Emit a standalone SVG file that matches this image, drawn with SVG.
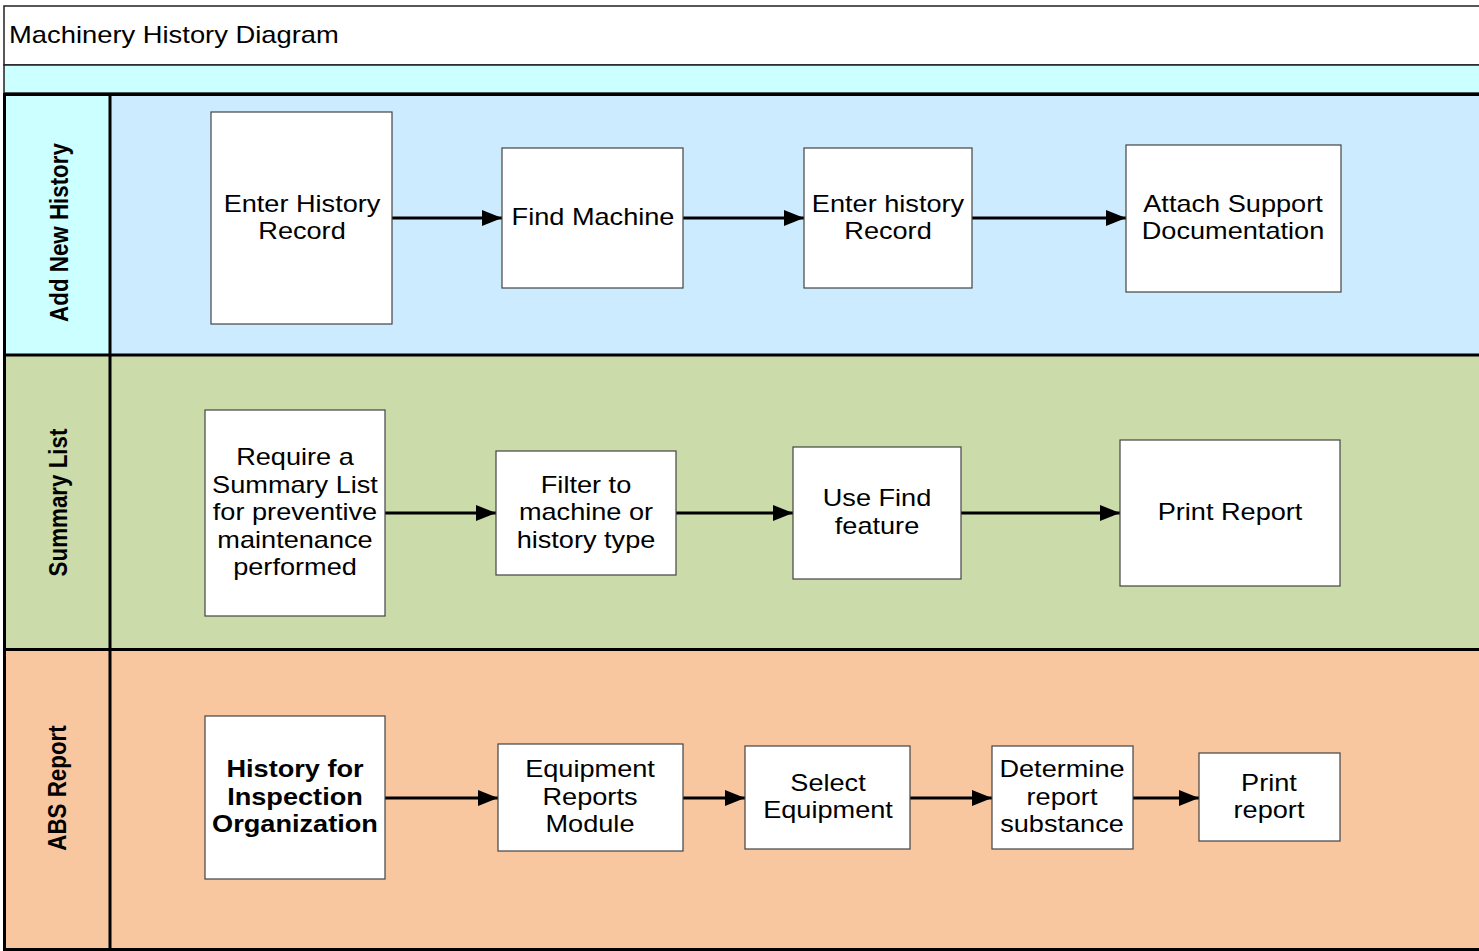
<svg xmlns="http://www.w3.org/2000/svg" width="1479" height="951" viewBox="0 0 1479 951">
<defs>
<style>
.t{font-family:"Liberation Sans",Arial,sans-serif;font-size:23px;fill:#000;text-anchor:middle}
.b{font-weight:bold}
.lane{font-family:"Liberation Sans",Arial,sans-serif;font-size:26px;font-weight:bold;fill:#000;text-anchor:middle}
.box{fill:#fff;stroke:#444;stroke-width:1.2}
.ln{stroke:#000;stroke-width:3;fill:none}
.conn{stroke:#000;stroke-width:3;fill:none;marker-end:url(#ah)}
</style>
<marker id="ah" markerUnits="userSpaceOnUse" markerWidth="20" markerHeight="16" refX="20" refY="8" orient="auto">
<path d="M0,0 L20,8 L0,16 z" fill="#000"/>
</marker>
</defs>
<rect width="1479" height="951" fill="#fff"/>
<!-- title -->
<g id="title">
<rect x="4" y="6" width="1480" height="59" fill="#fff" stroke="#222" stroke-width="1.5"/>
<rect x="4" y="65" width="1480" height="28" fill="#CCFFFF" stroke="#222" stroke-width="1.5"/>
<text class="t" style="text-anchor:start" transform="translate(9,0) scale(1.19,1)" x="0" y="43">Machinery History Diagram</text>
</g>
<!-- lanes -->
<g id="lane-add">
<rect x="110" y="94.5" width="1372" height="260.5" fill="#CCEBFF"/>
<rect x="4.5" y="94.5" width="105.5" height="260.5" fill="#CCFFFF"/>
<text class="lane" transform="translate(58,232.5) rotate(-90) scale(0.86,1)" x="0" y="10">Add New History</text>
</g>
<g id="lane-summary">
<rect x="110" y="355" width="1372" height="294.5" fill="#CBDBA9"/>
<rect x="4.5" y="355" width="105.5" height="294.5" fill="#CBDBA9"/>
<text class="lane" transform="translate(58,502.5) rotate(-90) scale(0.86,1)" x="0" y="9">Summary List</text>
</g>
<g id="lane-abs">
<rect x="110" y="649.5" width="1372" height="300" fill="#F8C69F"/>
<rect x="4.5" y="649.5" width="105.5" height="300" fill="#F8C69F"/>
<text class="lane" transform="translate(57,788) rotate(-90) scale(0.86,1)" x="0" y="9">ABS Report</text>
</g>
<g id="lane-lines">
<line class="ln" x1="3" y1="94.5" x2="1479" y2="94.5"/>
<line class="ln" x1="3" y1="355" x2="1479" y2="355"/>
<line class="ln" x1="3" y1="649.5" x2="1479" y2="649.5"/>
<line class="ln" x1="3" y1="949.5" x2="1479" y2="949.5"/>
<line class="ln" x1="4.5" y1="93" x2="4.5" y2="951"/>
<line class="ln" x1="110" y1="93" x2="110" y2="951"/>
</g>
<!-- connectors -->
<g id="connectors">
<line class="conn" x1="392" y1="218" x2="502" y2="218"/>
<line class="conn" x1="683" y1="218" x2="804" y2="218"/>
<line class="conn" x1="972" y1="218" x2="1126" y2="218"/>
<line class="conn" x1="385" y1="513" x2="496" y2="513"/>
<line class="conn" x1="676" y1="513" x2="793" y2="513"/>
<line class="conn" x1="961" y1="513" x2="1120" y2="513"/>
<line class="conn" x1="385" y1="798" x2="498" y2="798"/>
<line class="conn" x1="683" y1="798" x2="745" y2="798"/>
<line class="conn" x1="910" y1="798" x2="992" y2="798"/>
<line class="conn" x1="1133" y1="798" x2="1199" y2="798"/>
</g>
<!-- nodes lane 1 -->
<g id="n-enter-history-record">
<rect class="box" x="211" y="112" width="181" height="212"/>
<text class="t" transform="translate(302,0) scale(1.18,1)"><tspan x="0" y="212">Enter History</tspan><tspan x="0" y="239">Record</tspan></text>
</g>
<g id="n-find-machine">
<rect class="box" x="502" y="148" width="181" height="140"/>
<text class="t" transform="translate(593,0) scale(1.18,1)" x="0" y="225">Find Machine</text>
</g>
<g id="n-enter-history-record-2">
<rect class="box" x="804" y="148" width="168" height="140"/>
<text class="t" transform="translate(888,0) scale(1.18,1)"><tspan x="0" y="212">Enter history</tspan><tspan x="0" y="239">Record</tspan></text>
</g>
<g id="n-attach">
<rect class="box" x="1126" y="145" width="215" height="147"/>
<text class="t" transform="translate(1233,0) scale(1.18,1)"><tspan x="0" y="212">Attach Support</tspan><tspan x="0" y="239">Documentation</tspan></text>
</g>
<!-- nodes lane 2 -->
<g id="n-require">
<rect class="box" x="205" y="410" width="180" height="206"/>
<text class="t" transform="translate(295,0) scale(1.18,1)"><tspan x="0" y="465">Require a</tspan><tspan x="0" y="493">Summary List</tspan><tspan x="0" y="520">for preventive</tspan><tspan x="0" y="548">maintenance</tspan><tspan x="0" y="575">performed</tspan></text>
</g>
<g id="n-filter">
<rect class="box" x="496" y="451" width="180" height="124"/>
<text class="t" transform="translate(586,0) scale(1.18,1)"><tspan x="0" y="493">Filter to</tspan><tspan x="0" y="520">machine or</tspan><tspan x="0" y="548">history type</tspan></text>
</g>
<g id="n-use-find">
<rect class="box" x="793" y="447" width="168" height="132"/>
<text class="t" transform="translate(877,0) scale(1.18,1)"><tspan x="0" y="506">Use Find</tspan><tspan x="0" y="534">feature</tspan></text>
</g>
<g id="n-print-report">
<rect class="box" x="1120" y="440" width="220" height="146"/>
<text class="t" transform="translate(1230,0) scale(1.18,1)" x="0" y="520">Print Report</text>
</g>
<!-- nodes lane 3 -->
<g id="n-history-inspection">
<rect class="box" x="205" y="716" width="180" height="163"/>
<text class="t b" transform="translate(295,0) scale(1.18,1)"><tspan x="0" y="777">History for</tspan><tspan x="0" y="805">Inspection</tspan><tspan x="0" y="832">Organization</tspan></text>
</g>
<g id="n-equipment-reports">
<rect class="box" x="498" y="744" width="185" height="107"/>
<text class="t" transform="translate(590,0) scale(1.18,1)"><tspan x="0" y="777">Equipment</tspan><tspan x="0" y="805">Reports</tspan><tspan x="0" y="832">Module</tspan></text>
</g>
<g id="n-select-equipment">
<rect class="box" x="745" y="746" width="165" height="103"/>
<text class="t" transform="translate(828,0) scale(1.18,1)"><tspan x="0" y="791">Select</tspan><tspan x="0" y="818">Equipment</tspan></text>
</g>
<g id="n-determine">
<rect class="box" x="992" y="746" width="141" height="103"/>
<text class="t" transform="translate(1062,0) scale(1.18,1)"><tspan x="0" y="777">Determine</tspan><tspan x="0" y="805">report</tspan><tspan x="0" y="832">substance</tspan></text>
</g>
<g id="n-print-report-2">
<rect class="box" x="1199" y="753" width="141" height="88"/>
<text class="t" transform="translate(1269,0) scale(1.18,1)"><tspan x="0" y="791">Print</tspan><tspan x="0" y="818">report</tspan></text>
</g>
</svg>
